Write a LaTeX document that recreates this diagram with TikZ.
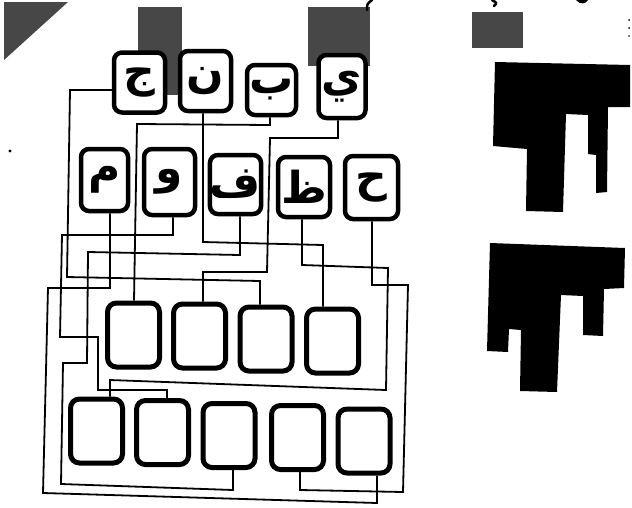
\documentclass[tikz,border=0pt]{standalone}
\usepackage{fontspec}
\newfontfamily\arabicfont[Script=Arabic]{DejaVu Sans}
\TeXXeTstate=1
\begin{document}
\begin{tikzpicture}[x=1pt,y=-1pt,
  lbox/.style={draw=black, line width=4.5pt, rounded corners=8pt, fill=white,
    minimum width=51pt, minimum height=60pt, inner sep=0pt,
    font=\arabicfont\bfseries\fontsize{44}{44}\selectfont},
  ebox/.style={draw=black, line width=5pt, rounded corners=9pt, fill=white,
    minimum width=52pt, minimum height=64pt, inner sep=0pt},
  wire/.style={line width=1.8pt, line join=miter},
  scan/.style={fill=black!72},
  ink/.style={fill=black}]
\useasboundingbox (0,0) rectangle (632,507);
\fill[white] (0,0) rectangle (632,507);
% scan remnants
\fill[scan] (4,2) -- (68,2) -- (4,60) -- cycle;
\fill[scan] (138,7) rectangle (182,95);
\fill[scan] (308,7) rectangle (370,66);
\fill[scan] (472,12) rectangle (523,48);
\fill[ink] (495,62) -- (630,65) -- (630,107) -- (608,107) -- (607,192) -- (596,193)
  -- (596,155) -- (588,154) -- (588,115) -- (566,114) -- (563,212) -- (526,211)
  -- (527,149) -- (493,146) -- cycle;
\fill[ink] (490,243) -- (625,248) -- (624,288) -- (604,289) -- (603,336) -- (583,335)
  -- (583,296) -- (561,295) -- (557,392) -- (520,391) -- (521,330) -- (509,329)
  -- (508,352) -- (487,351) -- cycle;
\fill[ink] (10,151) circle (1.6pt);
\fill[ink] (629,20) circle (1pt) (629,28) circle (1pt) (629,36) circle (0.8pt);
\draw[line width=2.5pt, line cap=round] (372,0) .. controls (367,4) .. (367,10);
\draw[line width=2.5pt, line cap=round] (492,0) .. controls (497,3) .. (494,6);
\fill[ink] (576,0) .. controls (580,5) and (586,4) .. (588,0) -- cycle;
% letter boxes
\node[lbox] (c1) at (139.5,82.5) {\beginR ج\endR};
\node[lbox] (c2) at (205.5,81) {\beginR ن\endR};
\node[lbox, minimum width=49pt, minimum height=50pt] (c3) at (271.5,90) {\beginR ب\endR};
\node[lbox, minimum width=47pt, minimum height=63pt] (c4) at (342,86.5) {\beginR ي\endR};
\node[lbox, minimum width=47pt, minimum height=62pt] (s1) at (104.5,180) {\beginR م\endR};
\node[lbox, minimum height=66pt] (s2) at (169.5,182) {\beginR و\endR};
\node[lbox, minimum height=59pt] (s3) at (235.5,184.5) {\beginR ف\endR};
\node[lbox, minimum width=52pt] (s4) at (304,187) {\beginR ظ\endR};
\node[lbox, minimum width=53pt, minimum height=63pt] (s5) at (371.5,187.5) {\beginR ح\endR};
% empty boxes
\node[ebox] (a1) at (133.5,335) {};
\node[ebox] (a2) at (199.5,336) {};
\node[ebox] (a3) at (266,339) {};
\node[ebox] (a4) at (332.5,341) {};
\node[ebox] (b1) at (96.5,431) {};
\node[ebox] (b2) at (162.5,432.5) {};
\node[ebox] (b3) at (229,435.5) {};
\node[ebox] (b4) at (297.5,437.5) {};
\node[ebox] (b5) at (364,441) {};
% connectors
\draw[wire] (c1.west |- 0,90) -- (70,90) -- (67,277) -- (260,281) -- (260,0 |- a3.north);
\draw[wire] (203,0 |- c2.south) -- (203,242) -- (323,245) -- (323,0 |- a4.north);
\draw[wire] (270,0 |- c3.south) -- (270,125) -- (137,124) -- (134,0 |- a1.north);
\draw[wire] (338,0 |- c4.south) -- (338,138) -- (270,138) -- (267,272) -- (203,272) -- (203,0 |- a2.north);
\draw[wire] (110,0 |- s1.south) -- (110,288) -- (48,288) -- (43,493) -- (377,503) -- (377,0 |- b5.south);
\draw[wire] (173,0 |- s2.south) -- (173,235) -- (62,235) -- (60,337) -- (98,337) -- (98,390) -- (167,390) -- (167,0 |- b2.north);
\draw[wire] (240,0 |- s3.south) -- (240,255) -- (88,252) -- (87,363) -- (63,363) -- (61,484) -- (233,490) -- (233,0 |- b3.south);
\draw[wire] (302,0 |- s4.south) -- (302,265) -- (388,268) -- (386,390) -- (110,380) -- (110,0 |- b1.north);
\draw[wire] (372,0 |- s5.south) -- (372,285) -- (408,285) -- (403,492) -- (300,490) -- (300,0 |- b4.south);
\end{tikzpicture}
\end{document}
